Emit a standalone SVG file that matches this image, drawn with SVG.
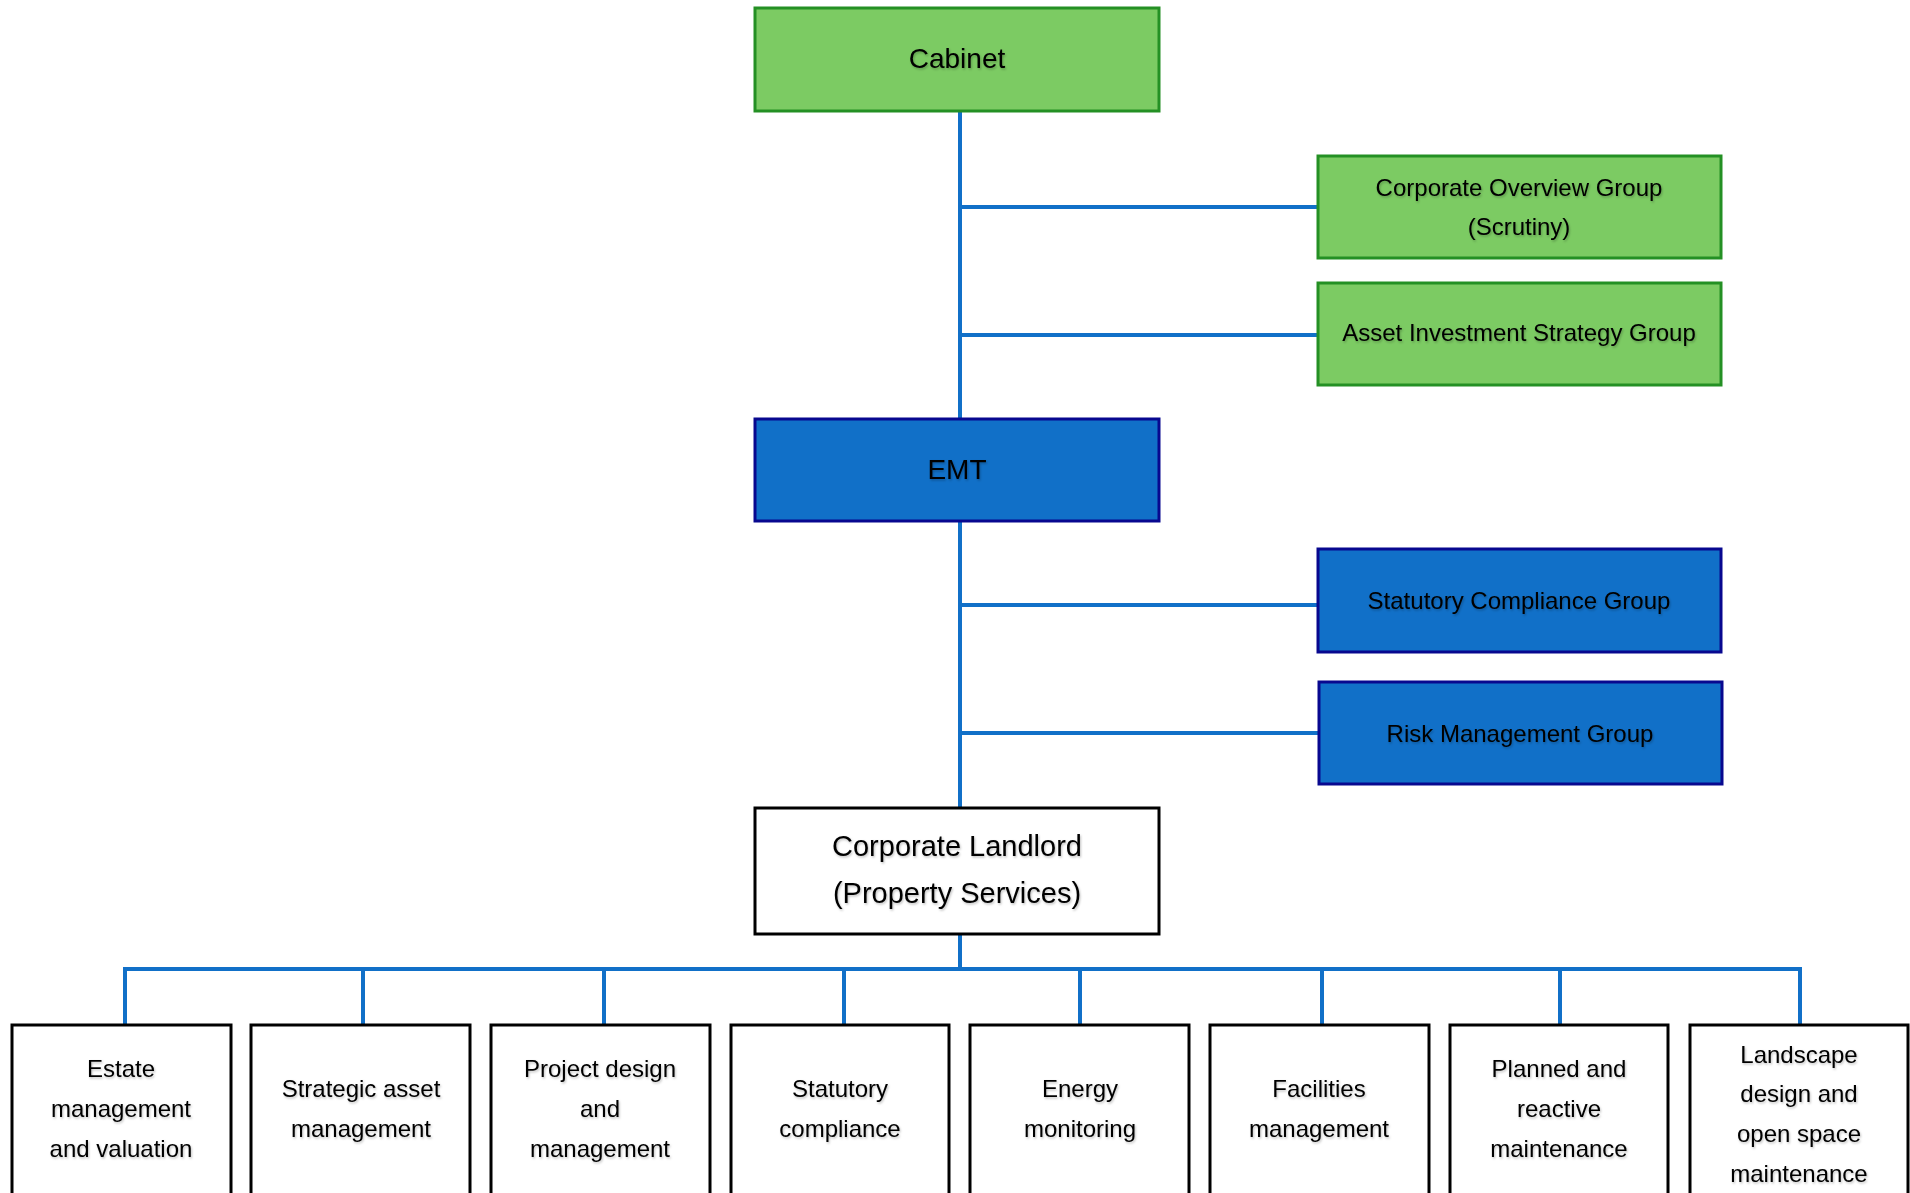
<svg xmlns="http://www.w3.org/2000/svg" width="1910" height="1193" viewBox="0 0 1910 1193">
<defs>
<filter id="ts" x="-10%" y="-30%" width="120%" height="160%">
<feDropShadow dx="1" dy="1.5" stdDeviation="0.8" flood-color="#000" flood-opacity="0.25"/>
</filter>
</defs>
<style>
.green{fill:#7CCB63;stroke:#249024;stroke-width:3}
.blue{fill:#1170C8;stroke:#08088F;stroke-width:3}
.white{fill:#fff;stroke:#000;stroke-width:3}
.conn{stroke:#1170C8;stroke-width:4;fill:none}
text{font-family:"Liberation Sans",Arial,sans-serif;fill:#000;text-anchor:middle;dominant-baseline:central;filter:url(#ts)}
.t28{font-size:28px}
.t29{font-size:29px}
.t24{font-size:24px}
</style>
<rect width="1910" height="1193" fill="#fff"/>
<g id="connectors">
<line class="conn" x1="960" y1="111" x2="960" y2="419"/>
<line class="conn" x1="960" y1="521" x2="960" y2="808"/>
<line class="conn" x1="960" y1="934" x2="960" y2="969"/>
<line class="conn" x1="960" y1="207" x2="1318" y2="207"/>
<line class="conn" x1="960" y1="335" x2="1318" y2="335"/>
<line class="conn" x1="960" y1="605" x2="1318" y2="605"/>
<line class="conn" x1="960" y1="733" x2="1319" y2="733"/>
<line class="conn" x1="123" y1="969" x2="1802" y2="969"/>
<line class="conn" x1="125" y1="969" x2="125" y2="1024"/>
<line class="conn" x1="363" y1="969" x2="363" y2="1024"/>
<line class="conn" x1="604" y1="969" x2="604" y2="1024"/>
<line class="conn" x1="844" y1="969" x2="844" y2="1024"/>
<line class="conn" x1="1080" y1="969" x2="1080" y2="1024"/>
<line class="conn" x1="1322" y1="969" x2="1322" y2="1024"/>
<line class="conn" x1="1560" y1="969" x2="1560" y2="1024"/>
<line class="conn" x1="1800" y1="969" x2="1800" y2="1024"/>
</g>
<g id="cabinet">
<rect class="green" x="755" y="8" width="404" height="103"/>
<text class="t28" x="957" y="58">Cabinet</text>
</g>
<g id="corporate-overview">
<rect class="green" x="1318" y="156" width="403" height="102"/>
<text class="t24" x="1519" y="187">Corporate Overview Group</text>
<text class="t24" x="1519" y="226">(Scrutiny)</text>
</g>
<g id="asset-investment">
<rect class="green" x="1318" y="283" width="403" height="102"/>
<text class="t24" x="1519" y="332">Asset Investment Strategy Group</text>
</g>
<g id="emt">
<rect class="blue" x="755" y="419" width="404" height="102"/>
<text class="t28" x="957" y="469">EMT</text>
</g>
<g id="statutory-compliance-group">
<rect class="blue" x="1318" y="549" width="403" height="103"/>
<text class="t24" x="1519" y="600">Statutory Compliance Group</text>
</g>
<g id="risk-management">
<rect class="blue" x="1319" y="682" width="403" height="102"/>
<text class="t24" x="1520" y="733">Risk Management Group</text>
</g>
<g id="corporate-landlord">
<rect class="white" x="755" y="808" width="404" height="126"/>
<text class="t29" x="957" y="846">Corporate Landlord</text>
<text class="t29" x="957" y="893">(Property Services)</text>
</g>
<g id="estate">
<rect class="white" x="12" y="1025" width="219" height="180"/>
<text class="t24" x="121" y="1068">Estate</text>
<text class="t24" x="121" y="1108">management</text>
<text class="t24" x="121" y="1148">and valuation</text>
</g>
<g id="strategic">
<rect class="white" x="251" y="1025" width="219" height="180"/>
<text class="t24" x="361" y="1088">Strategic asset</text>
<text class="t24" x="361" y="1128">management</text>
</g>
<g id="project">
<rect class="white" x="491" y="1025" width="219" height="180"/>
<text class="t24" x="600" y="1068">Project design</text>
<text class="t24" x="600" y="1108">and</text>
<text class="t24" x="600" y="1148">management</text>
</g>
<g id="statutory">
<rect class="white" x="731" y="1025" width="218" height="180"/>
<text class="t24" x="840" y="1088">Statutory</text>
<text class="t24" x="840" y="1128">compliance</text>
</g>
<g id="energy">
<rect class="white" x="970" y="1025" width="219" height="180"/>
<text class="t24" x="1080" y="1088">Energy</text>
<text class="t24" x="1080" y="1128">monitoring</text>
</g>
<g id="facilities">
<rect class="white" x="1210" y="1025" width="219" height="180"/>
<text class="t24" x="1319" y="1088">Facilities</text>
<text class="t24" x="1319" y="1128">management</text>
</g>
<g id="planned">
<rect class="white" x="1450" y="1025" width="218" height="180"/>
<text class="t24" x="1559" y="1068">Planned and</text>
<text class="t24" x="1559" y="1108">reactive</text>
<text class="t24" x="1559" y="1148">maintenance</text>
</g>
<g id="landscape">
<rect class="white" x="1690" y="1025" width="218" height="180"/>
<text class="t24" x="1799" y="1054">Landscape</text>
<text class="t24" x="1799" y="1093">design and</text>
<text class="t24" x="1799" y="1133">open space</text>
<text class="t24" x="1799" y="1173">maintenance</text>
</g>
</svg>
